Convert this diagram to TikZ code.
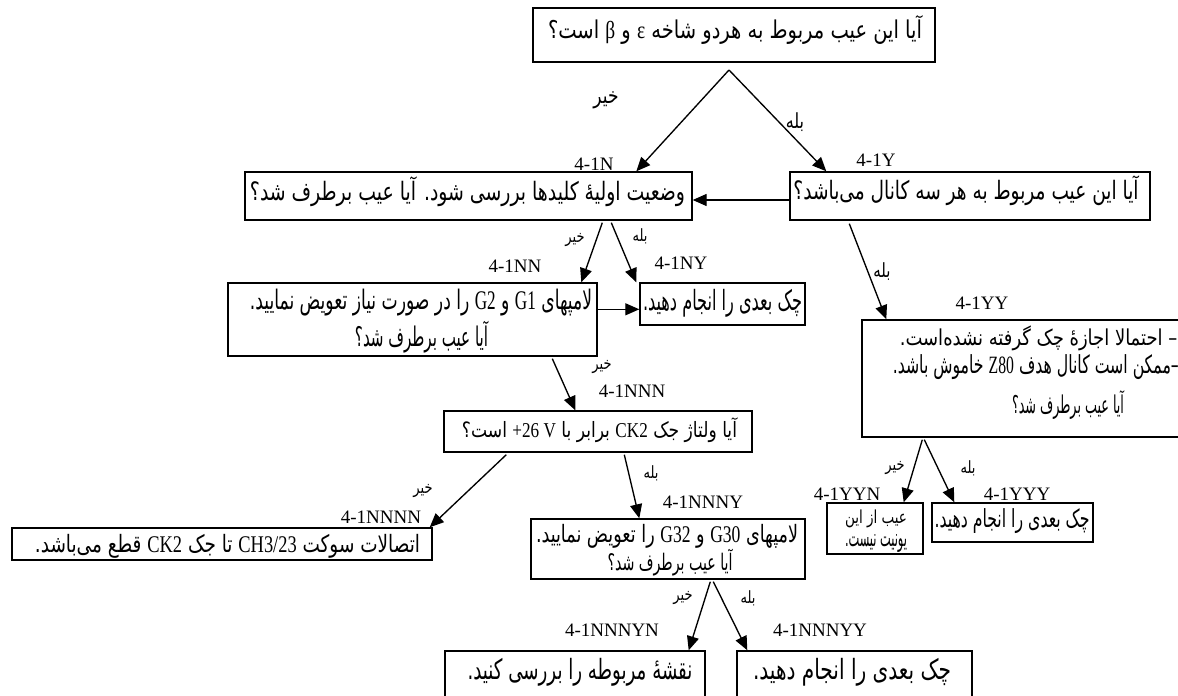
\documentclass[tikz,border=0pt]{standalone}
\usepackage{fontspec}
\usepackage{graphicx}
\usetikzlibrary{arrows.meta,calc}
\setmainfont{Liberation Serif}
\newfontfamily\fafont[Script=Arabic]{DejaVu Sans}
\TeXXeTstate=1
\newcommand{\LtR}[1]{\beginL{\rmfamily #1}\endL{}}
\newcommand{\fa}[3]{\resizebox*{#1pt}{#2pt}{\fafont #3}}
\newcommand{\fs}[2]{\scalebox{1}[1.3]{\fontsize{#1}{#1}\fafont #2}}
\tikzset{
  box/.style={draw, line width=1.4pt, inner sep=0pt},
  txt/.style={inner sep=0pt},
  lab/.style={inner sep=0pt, font=\fontsize{19}{19}\selectfont},
  arr/.style={line width=1.35pt, -{Triangle[length=14pt,width=12pt]}}
}
\begin{document}
\begin{tikzpicture}[x=1pt,y=-1pt]
\useasboundingbox (0,0) rectangle (1178,696);
% boxes
\node[box, minimum width=402pt, minimum height=54pt] (top) at (734,35) {};
\node[box, minimum width=447pt, minimum height=48pt] (b1) at (468.5,196) {};
\node[box, minimum width=360pt, minimum height=48pt] (b2) at (970,196) {};
\node[box, minimum width=369pt, minimum height=73pt] (b3) at (412.5,319.5) {};
\node[box, minimum width=165pt, minimum height=42pt] (b4) at (722.5,304) {};
\node[box, minimum width=330pt, minimum height=117pt] (b5) at (1027,378.5) {};
\node[box, minimum width=308pt, minimum height=41pt] (b6) at (598,431.5) {};
\node[box, minimum width=420pt, minimum height=32pt] (b7) at (222,544) {};
\node[box, minimum width=274pt, minimum height=60pt] (b8) at (668,549) {};
\node[box, minimum width=260pt, minimum height=70pt] (b9) at (575,686) {};
\node[box, minimum width=235pt, minimum height=70pt] (b10) at (854.5,686) {};
\node[box, minimum width=96pt, minimum height=51pt] (b11) at (875,528.5) {};
\node[box, minimum width=161pt, minimum height=39pt] (b12) at (1012.5,522.5) {};
% box texts
\node[txt] (ttop) at (735,30) {\fa{374}{29}{\beginR آیا این عیب مربوط به هردو شاخه \LtR{ε} و \LtR{β} است؟\endR}};
\node[txt] (tb1) at (467.5,192) {\fa{435}{30}{\beginR وضعیت اولیهٔ کلیدها بررسی شود. آیا عیب برطرف شد؟\endR}};
\node[txt] (tb2) at (966,191) {\fa{345}{30}{\beginR آیا این عیب مربوط به هر سه کانال می‌باشد؟\endR}};
\node[txt] (tb3a) at (421,303) {\fa{342}{27}{\beginR لامپهای \LtR{G1} و \LtR{G2} را در صورت نیاز تعویض نمایید.\endR}};
\node[txt] (tb3b) at (421.5,337) {\fa{133}{32}{\beginR آیا عیب برطرف شد؟\endR}};
\node[txt] (tb4) at (722.5,303) {\fa{159}{28}{\beginR چک بعدی را انجام دهید.\endR}};
\node[txt, anchor=east] (tb5a) at (1189,338) {\fa{289}{25}{\beginR 1– احتمالا اجازهٔ چک گرفته نشده‌است.\endR}};
\node[txt, anchor=east] (tb5b) at (1189,367) {\fa{296}{25}{\beginR 2–ممکن است کانال هدف \LtR{Z80} خاموش باشد.\endR}};
\node[txt] (tb5c) at (1068,405) {\fa{112}{29}{\beginR آیا عیب برطرف شد؟\endR}};
\node[txt] (tb6) at (599.5,430) {\fa{275}{25}{\beginR آیا ولتاژ جک \LtR{CK2} برابر با \LtR{+26 V} است؟\endR}};
\node[txt] (tb7) at (227.5,546) {\fa{385}{24}{\beginR اتصالات سوکت \LtR{CH3/23} تا جک \LtR{CK2} قطع می‌باشد.\endR}};
\node[txt] (tb8a) at (667,536) {\fa{262}{24}{\beginR لامپهای \LtR{G30} و \LtR{G32} را تعویض نمایید.\endR}};
\node[txt] (tb8b) at (670,563) {\fa{125}{27}{\beginR آیا عیب برطرف شد؟\endR}};
\node[txt] (tb9) at (580,672) {\fa{225}{28}{\beginR نقشهٔ مربوطه را بررسی کنید.\endR}};
\node[txt] (tb10) at (852,672) {\fa{198}{28}{\beginR چک بعدی را انجام دهید.\endR}};
\node[txt] (tb11a) at (876,519) {\fa{62}{18}{\beginR عیب از این\endR}};
\node[txt] (tb11b) at (876,543) {\fa{62}{18}{\beginR یونیت نیست.\endR}};
\node[txt] (tb12) at (1012,521) {\fa{155}{25}{\beginR چک بعدی را انجام دهید.\endR}};
% code labels
\node[lab] (l1) at (594,164) {4-1N};
\node[lab] (l2) at (876,160) {4-1Y};
\node[lab] (l3) at (515,266) {4-1NN};
\node[lab] (l4) at (681,263) {4-1NY};
\node[lab] (l5) at (982,303) {4-1YY};
\node[lab] (l6) at (632,391) {4-1NNN};
\node[lab] (l7) at (381,517) {4-1NNNN};
\node[lab] (l8) at (703,502) {4-1NNNY};
\node[lab] (l9) at (847,494) {4-1YYN};
\node[lab] (l10) at (1017,494) {4-1YYY};
\node[lab] (l11) at (612,630) {4-1NNNYN};
\node[lab] (l12) at (820,630) {4-1NNNYY};
% yes/no labels
\node[txt] (n0) at (606,100) {\fs{17}{\beginR خیر\endR}};
\node[txt] (y0) at (795,122) {\fs{16}{\beginR بله\endR}};
\node[txt] (n1) at (575,240) {\fs{13}{\beginR خیر\endR}};
\node[txt] (y1) at (640,236) {\fs{13}{\beginR بله\endR}};
\node[txt] (y2) at (882,272) {\fs{15}{\beginR بله\endR}};
\node[txt] (n3) at (602,367) {\fs{13}{\beginR خیر\endR}};
\node[txt] (n6) at (423,491) {\fs{13}{\beginR خیر\endR}};
\node[txt] (y6) at (651,473) {\fs{13}{\beginR بله\endR}};
\node[txt] (n8) at (683,598) {\fs{13}{\beginR خیر\endR}};
\node[txt] (y8) at (748,598) {\fs{13}{\beginR بله\endR}};
\node[txt] (n5) at (895,468) {\fs{13}{\beginR خیر\endR}};
\node[txt] (y5) at (968,468) {\fs{13}{\beginR بله\endR}};
% connectors
\coordinate (apex) at (729,70);
\draw[arr] (apex) -- ($(b1.north west)+(392,0)$);
\draw[arr] (apex) -- ($(b2.north west)+(37,0)$);
\draw[arr] ($(b2.west)+(0,4)$) -- ($(b1.east)+(0,4)$);
\draw[arr] ($(b1.south west)+(358,2)$) -- ($(b3.north west)+(354,0)$);
\draw[arr] ($(b1.south west)+(367,2)$) -- ($(b4.north west)+(-3,0)$);
\draw[arr] ($(b3.north east)+(0,27)$) -- ($(b4.north west)+(0,27)$);
\draw[arr] ($(b2.south west)+(60,3)$) -- ($(b5.north west)+(25,0)$);
\draw[arr] ($(b3.south west)+(325,2)$) -- ($(b6.north west)+(132,0)$);
\draw[arr] ($(b6.south west)+(63,2)$) -- ($(b7.north east)+(-3,0)$);
\draw[arr] ($(b6.south west)+(181,2)$) -- ($(b8.north west)+(109,0)$);
\draw[arr] ($(b8.south west)+(180,2)$) -- ($(b9.north east)+(-17,0)$);
\draw[arr] ($(b8.south west)+(183,2)$) -- ($(b10.north west)+(11,0)$);
\draw[arr] ($(b5.south west)+(61,2)$) -- ($(b11.north east)+(-20,0)$);
\draw[arr] ($(b5.south west)+(63,2)$) -- ($(b12.north west)+(23,0)$);
\end{tikzpicture}
\end{document}
